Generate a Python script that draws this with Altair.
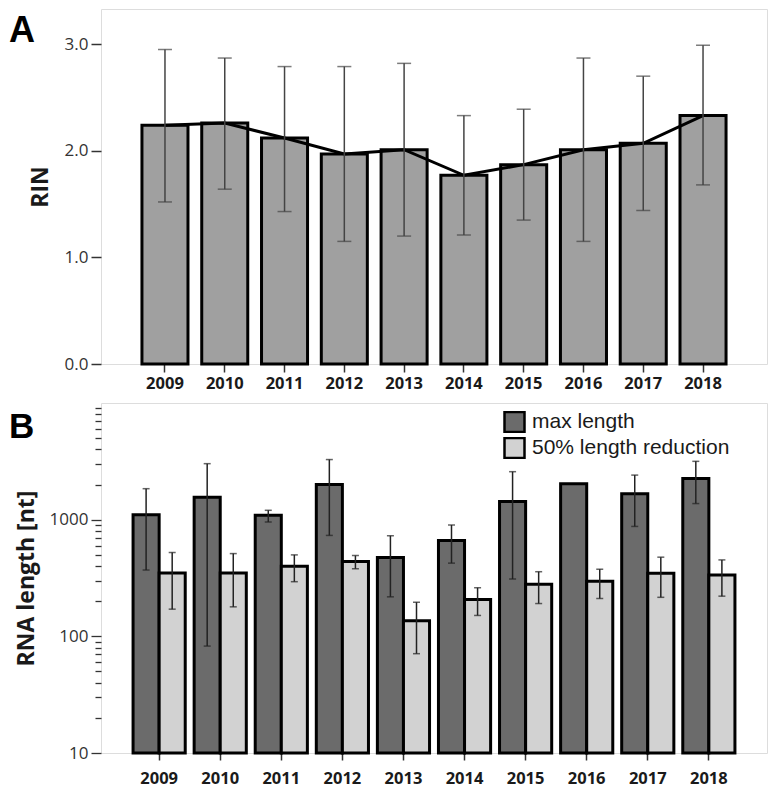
import altair as alt
import pandas as pd

years = [str(y) for y in range(2009, 2019)]

# Panel A: RIN
rin_mean = [2.24, 2.26, 2.12, 1.97, 2.01, 1.77, 1.87, 2.01, 2.07, 2.33]
rin_hi = [2.95, 2.87, 2.79, 2.79, 2.82, 2.33, 2.39, 2.87, 2.70, 2.99]
rin_lo = [1.52, 1.64, 1.43, 1.15, 1.20, 1.21, 1.35, 1.15, 1.44, 1.68]

# Panel B: RNA length [nt]
series = ["max length", "50% length reduction"]
max_len = [1100, 1557, 1089, 2002, 473, 663, 1430, 2030, 1667, 2254]
max_hi = [1843, 3020, 1203, 3275, 728, 900, 2578, None, 2410, 3162]
max_lo = [370, 82.5, 955, 733, 218, 424, 310, None, 875, 1374]
red_len = [349, 349, 399, 437, 136, 207, 279, 297, 347, 336]
red_hi = [523, 512, 499, 492, 196, 261, 358, 376, 477, 452]
red_lo = [171, 179, 294, 380, 71, 151, 191, 211, 216, 221]

major_ticks = [10, 100, 1000]
minor_ticks = [m * d for d in (10, 100, 1000) for m in range(2, 10)]

FONT = "Open Sans"
W = 666

# ---------------- Panel A ----------------
dfA = pd.DataFrame({"year": years, "rin": rin_mean, "hi": rin_hi, "lo": rin_lo})

xA_scale = alt.Scale(paddingInner=0.23, paddingOuter=0.685)
xA_axis = alt.Axis(title=None, labelAngle=0, labelFont=FONT, labelFontWeight="bold",
                   labelFontSize=16.5, labelColor="#1a1a1a", tickSize=8, tickWidth=1.5,
                   tickColor="#333", labelPadding=3, domain=False, grid=False)
yA_scale = alt.Scale(domain=[0, 3.33], nice=False)
yA_axis = alt.Axis(title="RIN", values=[0, 1, 2, 3], format=".1f", labelFont=FONT,
                   labelFontSize=17, labelColor="#333", tickSize=10, tickWidth=1.5,
                   tickColor="#333", labelPadding=3, domain=False, grid=False,
                   titleFont=FONT, titleFontSize=23, titleFontWeight="bold",
                   titleColor="#1a1a1a", titlePadding=12)


def xA():
    return alt.X("year:N", scale=xA_scale, axis=xA_axis, sort=years)


def yA(field):
    return alt.Y(f"{field}:Q", scale=yA_scale, axis=yA_axis, title="RIN")


barsA = alt.Chart(dfA).mark_bar(color="#a0a0a0", stroke="black", strokeWidth=3).encode(
    x=xA(), y=yA("rin"))
lineA = alt.Chart(dfA).mark_line(color="black", strokeWidth=3).encode(x=xA(), y=yA("rin"))
errA = alt.Chart(dfA).mark_rule(color="#444", strokeWidth=1.5).encode(
    x=xA(), y=yA("lo"), y2="hi:Q")
capHiA = alt.Chart(dfA).mark_tick(color="#444", thickness=1.5, size=14).encode(x=xA(), y=yA("hi"))
capLoA = alt.Chart(dfA).mark_tick(color="#444", thickness=1.5, size=14).encode(x=xA(), y=yA("lo"))
tagA = alt.Chart(pd.DataFrame({"t": ["A"]})).mark_text(
    align="left", baseline="alphabetic", fontSize=36, fontWeight="bold",
    font="Liberation Sans", color="black").encode(
    text="t:N", x=alt.value(-92), y=alt.value(33))

panelA = alt.layer(barsA, lineA, errA, capHiA, capLoA, tagA).properties(width=W, height=355)

# ---------------- Panel B ----------------
rows = []
for i, y in enumerate(years):
    rows.append({"year": y, "series": series[0], "v": max_len[i], "hi": max_hi[i], "lo": max_lo[i]})
    rows.append({"year": y, "series": series[1], "v": red_len[i], "hi": red_hi[i], "lo": red_lo[i]})
dfB = pd.DataFrame(rows)

xB_scale = alt.Scale(paddingInner=0.146, paddingOuter=0.525)
xB_axis = alt.Axis(title=None, labelAngle=0, labelFont=FONT, labelFontWeight="bold",
                   labelFontSize=16.5, labelColor="#1a1a1a", tickSize=7, tickWidth=1.5,
                   tickColor="#333", labelPadding=10, domain=False, grid=False)
is_major = "datum.value == 10 || datum.value == 100 || datum.value == 1000"
yB_scale = alt.Scale(type="log", domain=[10, 10000], nice=False)
yB_axis = alt.Axis(title="RNA length [nt]", values=major_ticks + minor_ticks,
                   labelExpr=f"({is_major}) ? format(datum.value, 'd') : ''",
                   labelFont=FONT, labelFontSize=17, labelColor="#333",
                   tickSize={"condition": {"test": is_major, "value": 10}, "value": 6},
                   tickWidth=1.3, tickColor="#333", labelPadding=3, domain=False, grid=False,
                   titleFont=FONT, titleFontSize=23, titleFontWeight="bold",
                   titleColor="#1a1a1a", titlePadding=11)


def xB():
    return alt.X("year:N", scale=xB_scale, axis=xB_axis, sort=years)


def yB(field):
    return alt.Y(f"{field}:Q", scale=yB_scale, axis=yB_axis, title="RNA length [nt]")


xoff = alt.XOffset("series:N", sort=series, scale=alt.Scale(paddingInner=0, paddingOuter=0))

colorB = alt.Color("series:N", sort=series,
                   scale=alt.Scale(domain=series, range=["#6b6b6b", "#d2d2d2"]),
                   legend=alt.Legend(title=None, orient="none", legendX=402, legendY=402,
                                     symbolType="square", symbolSize=400,
                                     symbolStrokeColor="black", symbolStrokeWidth=2.5,
                                     labelFont="Liberation Sans", labelFontSize=21,
                                     labelColor="#1a1a1a", labelOffset=6, rowPadding=4,
                                     clipHeight=22, labelLimit=400, padding=0,
                                     symbolOpacity=1))

barsB = alt.Chart(dfB).mark_bar(stroke="black", strokeWidth=3, opacity=1).encode(
    x=xB(), xOffset=xoff, y=yB("v"), y2=alt.datum(10), color=colorB)
errB_base = alt.Chart(dfB).transform_filter("isValid(datum.hi) && isFinite(datum.hi)")
errB = errB_base.mark_rule(color="#222", strokeWidth=1.5).encode(
    x=xB(), xOffset=xoff, y=yB("lo"), y2="hi:Q")
capHiB = errB_base.mark_tick(color="#222", thickness=1.5, size=7).encode(
    x=xB(), xOffset=xoff, y=yB("hi"))
capLoB = errB_base.mark_tick(color="#222", thickness=1.5, size=7).encode(
    x=xB(), xOffset=xoff, y=yB("lo"))
tagB = alt.Chart(pd.DataFrame({"t": ["B"]})).mark_text(
    align="left", baseline="alphabetic", fontSize=35, fontWeight="bold",
    font="Liberation Sans", color="black").encode(
    text="t:N", x=alt.value(-92), y=alt.value(35))

panelB = alt.layer(barsB, errB, capHiB, capLoB, tagB).properties(width=W, height=350)

chart = alt.vconcat(panelA, panelB, spacing=10).properties(padding=0).configure_view(
    stroke="#444", strokeWidth=1.5).configure(background="white")

chart.save("out.html", embed_options={"renderer": "svg", "actions": False})
